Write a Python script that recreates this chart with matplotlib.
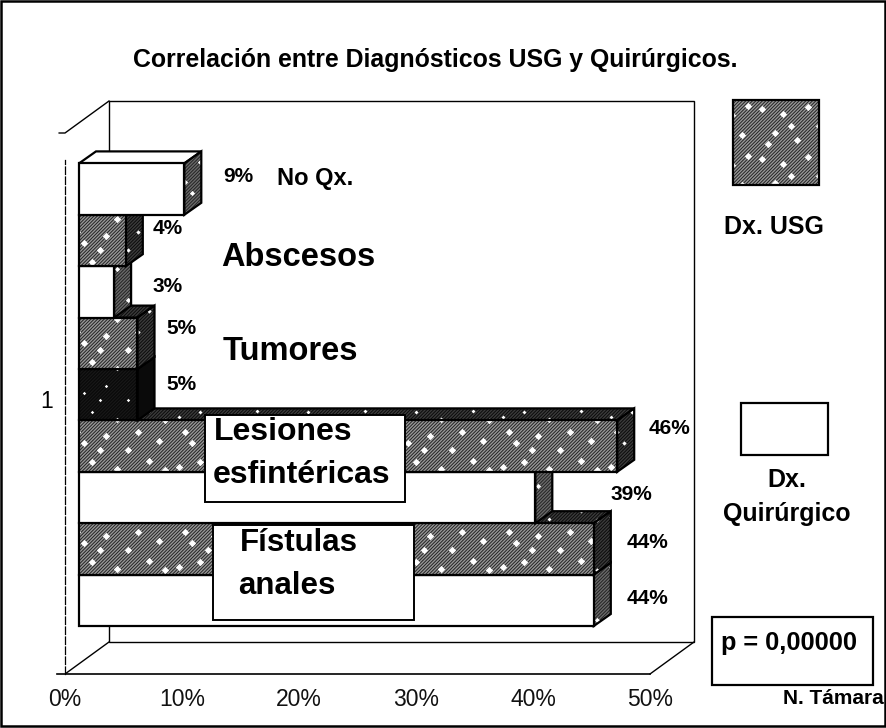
import matplotlib
matplotlib.use("Agg")
import matplotlib.pyplot as plt
from matplotlib.patches import Polygon, Rectangle

plt.rcParams['font.family'] = ['Liberation Sans', 'DejaVu Sans']
plt.rcParams['hatch.linewidth'] = 0.7

# bottom bar first
series = ["qx", "usg", "qx", "usg", "black", "usg", "qx", "usg", "qx"]
values = [44, 44, 39, 46, 5, 5, 3, 4, 9]
value_labels = ["44%", "44%", "39%", "46%", "5%", "5%", "3%", "4%", "9%"]
xticks = [0, 10, 20, 30, 40, 50]
xtick_labels = ["0%", "10%", "20%", "30%", "40%", "50%"]

W, H = 887, 728
BAR_PX = 51.4
PCT_PX = 11.7
x_gap = 14 / PCT_PX      # bars start right of the front 0% line
dx = 17 / PCT_PX         # bar depth
dy = 12 / BAR_PX
ymin = -48 / BAR_PX
ymax = 493 / BAR_PX

# white specks of the scanned fill, one tile in pixels
SPECK_TILE = [(6, 9), (19, 33), (27, 14), (41, 40), (52, 7), (63, 26), (73, 44), (84, 15),
              (12, 44), (35, 26), (94, 35), (100, 6)]
TILE_W, TILE_H = 108, 50

fig = plt.figure(figsize=(W / 100, H / 100), dpi=100)
ax = fig.add_axes([65 / W, 1 - 674 / H, 585 / W, 541 / H])
ax.set_xlim(0, 50)
ax.set_ylim(ymin, ymax)
ax.patch.set_alpha(0)


def specks(target, patch, pts, sx, sy, size, zo):
    xs = [p[0] * sx for p in pts]
    ys = [p[1] * sy for p in pts]
    sp_x, sp_y = [], []
    for a in range(int(min(xs) // TILE_W), int(max(xs) // TILE_W) + 1):
        for b in range(int(min(ys) // TILE_H), int(max(ys) // TILE_H) + 1):
            for tx, ty in SPECK_TILE:
                sp_x.append((a * TILE_W + tx) / sx)
                sp_y.append((b * TILE_H + ty) / sy)
    sc = target.scatter(sp_x, sp_y, s=size, c='white', marker='D', linewidths=0, zorder=zo)
    sc.set_clip_path(patch)


def textured(target, pts, base, hatch_col, zo, sx=PCT_PX, sy=BAR_PX, size=14):
    # scanned grey fill: diagonal lines with white flecks on top
    p = Polygon(pts, closed=True, facecolor=base, edgecolor=hatch_col,
                hatch='//////////', lw=0, zorder=zo, clip_on=False)
    target.add_patch(p)
    specks(target, p, pts, sx, sy, size, zo)
    target.add_patch(Polygon(pts, closed=True, facecolor='none', edgecolor='black',
                             lw=1.6, zorder=zo, clip_on=False))


def plain(pts, col, zo):
    ax.add_patch(Polygon(pts, closed=True, facecolor=col, edgecolor='black',
                         lw=1.6, zorder=zo, clip_on=False))


# floor and back wall
wall_x = 44 / PCT_PX
wall_y = 32 / BAR_PX
ax.add_patch(Rectangle((wall_x, ymin + wall_y), 50, 541 / BAR_PX, fc='white', ec='black',
                       lw=1.0, zorder=1, clip_on=False))
ax.plot([0, wall_x], [ymin, ymin + wall_y], color='black', lw=1.0, zorder=1)
ax.plot([50, 50 + wall_x], [ymin, ymin + wall_y], color='black', lw=1.0, zorder=1, clip_on=False)
ax.plot([-0.5, 0, wall_x], [ymax, ymax, ymax + wall_y], color='black', lw=1.0, zorder=1, clip_on=False)

for i, (kind, v) in enumerate(zip(series, values)):
    zo = 3 + i
    x0 = x_gap
    x1 = x_gap + v
    front = [(x0, i), (x1, i), (x1, i + 1), (x0, i + 1)]
    top = [(x0, i + 1), (x1, i + 1), (x1 + dx, i + 1 + dy), (x0 + dx, i + 1 + dy)]
    side = [(x1, i), (x1 + dx, i + dy), (x1 + dx, i + 1 + dy), (x1, i + 1)]
    if kind == "black":
        plain(top, '#0a0a0a', zo)
        plain(side, '#0a0a0a', zo)
        textured(ax, front, '#0a0a0a', '#1a1a1a', zo, size=3)
    elif kind == "usg":
        textured(ax, top, '#3c3c3c', '#0a0a0a', zo, size=4)
        textured(ax, side, '#3c3c3c', '#0a0a0a', zo, size=5)
        textured(ax, front, '#989898', '#222222', zo)
    else:
        plain(top, 'white', zo)
        textured(ax, side, '#6a6a6a', '#222222', zo, size=7)
        plain(front, 'white', zo)

for s in ['top', 'right']:
    ax.spines[s].set_visible(False)
ax.spines['left'].set_linestyle((0, (6, 2)))
ax.spines['left'].set_linewidth(0.9)
ax.spines['left'].set_bounds(ymin, 466 / BAR_PX)
ax.spines['bottom'].set_linewidth(1.2)
ax.spines['bottom'].set_bounds(-0.7, 50)
ax.set_xticks(xticks)
ax.set_xticklabels(xtick_labels, fontsize=16.5, color='#111111')
ax.tick_params(axis='x', length=0, pad=10)
ax.set_yticks([(ymin + ymax) / 2 + 0.08])
ax.set_yticklabels(["1"], fontsize=16.5)
ax.tick_params(axis='y', length=0, pad=8.5)

# overlay in image pixels for the loose text and boxes
ov = fig.add_axes([0, 0, 1, 1])
ov.set_xlim(0, W)
ov.set_ylim(H, 0)
ov.axis('off')
ov.add_patch(Rectangle((1, 1), W - 3, 725, fc='none', ec='black', lw=1.8))

ov.text(435, 60, "Correlación entre Diagnósticos USG y Quirúrgicos.", fontsize=17.9,
        fontweight='bold', ha='center', va='center')

# value labels
label_pos = [(648, 598), (648, 542), (631, 494), (670, 428), (181, 385),
             (181, 328), (168, 287), (168, 228), (238, 177)]
for (lx, ly), t in zip(label_pos, value_labels):
    ov.text(lx, ly, t, fontsize=15, fontweight='bold', ha='center', va='center')

ov.text(315, 179, "No Qx.", fontsize=17, fontweight='bold', ha='center', va='center')
ov.text(298, 257, "Abscesos", fontsize=23.5, fontweight='bold', ha='center', va='center')
ov.text(290, 352, "Tumores", fontsize=23.5, fontweight='bold', ha='center', va='center')

ov.add_patch(Rectangle((205, 415), 200, 87, fc='white', ec='black', lw=1.4))
ov.text(283, 432, "Lesiones", fontsize=23, fontweight='bold', ha='center', va='center')
ov.text(302, 475, "esfintéricas", fontsize=23, fontweight='bold', ha='center', va='center')
ov.add_patch(Rectangle((213, 525), 201, 95, fc='white', ec='black', lw=1.4))
ov.text(299, 543, "Fístulas", fontsize=22.5, fontweight='bold', ha='center', va='center')
ov.text(287, 586, "anales", fontsize=22.5, fontweight='bold', ha='center', va='center')

# legend
square = [(733, 100), (819, 100), (819, 185), (733, 185)]
textured(ov, square, '#989898', '#222222', 3, sx=1, sy=1)
ov.text(774, 227, "Dx. USG", fontsize=18, fontweight='bold', ha='center', va='center')
ov.add_patch(Rectangle((741, 403), 87, 52, fc='white', ec='black', lw=1.6))
ov.text(787, 480, "Dx.", fontsize=18, fontweight='bold', ha='center', va='center')
ov.text(787, 514, "Quirúrgico", fontsize=18, fontweight='bold', ha='center', va='center')

ov.add_patch(Rectangle((712, 617), 161, 68, fc='white', ec='black', lw=1.6))
ov.text(789, 643, "p = 0,00000", fontsize=18.3, fontweight='bold', ha='center', va='center')
ov.text(783, 699, "N. Támara", fontsize=15, fontweight='bold', ha='left', va='center')

fig.savefig("out.png", dpi=100)
